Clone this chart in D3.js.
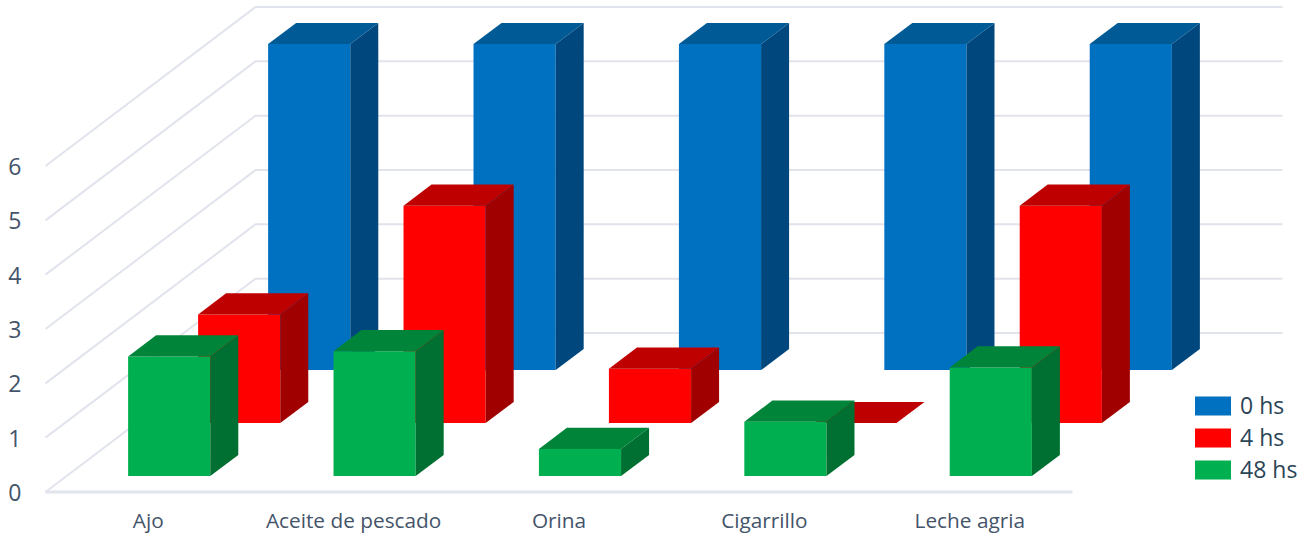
<!DOCTYPE html>
<html>
<head>
<meta charset="utf-8">
<script src="https://cdn.jsdelivr.net/npm/d3@7/dist/d3.min.js"></script>
<style>
  html, body { margin: 0; padding: 0; background: #fff; overflow: hidden; }
  text { font-family: "Open Sans", sans-serif; }
</style>
</head>
<body>
<svg id="chart" width="1311" height="536"></svg>
<script>
// Data
const categories = ["Ajo", "Aceite de pescado", "Orina", "Cigarrillo", "Leche agria"];
const seriesNames = ["0 hs", "4 hs", "48 hs"];
const values0hs = [6, 6, 6, 6, 6];
const values4hs = [2, 4, 1, 0, 4];
const values48hs = [2.2, 2.3, 0.5, 1, 2];
const yTicks = [0, 1, 2, 3, 4, 5, 6];

// front, top and side colours for each series
const faceColors = { "0 hs": "#0070C0", "4 hs": "#FF0000", "48 hs": "#00B050" };
const topColors = { "0 hs": "#005A96", "4 hs": "#BF0000", "48 hs": "#008439" };
const sideColors = { "0 hs": "#00477D", "4 hs": "#A00000", "48 hs": "#006F32" };

const series = [
  { name: "0 hs", values: values0hs },
  { name: "4 hs", values: values4hs },
  { name: "48 hs", values: values48hs }
];

const svg = d3.select("#chart");

// Front corner of the floor, and how far the back of the box is shifted from it
const originX = 45.5, originY = 492;
const depthX = 210, depthY = 159;

const x = d3.scaleBand()
  .domain(categories)
  .range([0, 1027])
  .paddingInner(0.6)
  .paddingOuter(0.3);

const y = d3.scaleLinear().domain([0, 6]).range([0, -326]);

// 0 is the front of the box, 1 is the back wall
const depth = d3.scaleBand()
  .domain(["48 hs", "4 hs", "0 hs"])
  .range([0, 1])
  .paddingInner(0.6)
  .paddingOuter(0.3);

// Oblique projection: category position + value + depth to screen coordinates
function px(xPos, d) { return originX + xPos + d * depthX; }
function py(val, d) { return originY + y(val) - d * depthY; }

function polyPoints(pts) {
  return pts.map(p => p.join(",")).join(" ");
}

// Walls
const walls = svg.append("g").attr("class", "walls")
  .attr("fill", "none").attr("stroke", "#E1E4EC").attr("stroke-width", 2);

yTicks.forEach(function(t) {
  walls.append("polyline").attr("points", polyPoints([
    [px(0, 0), py(t, 0)],
    [px(0, 1), py(t, 1)],
    [px(1027, 1), py(t, 1)]
  ]));
});
walls.append("line")
  .attr("x1", px(0, 0)).attr("y1", py(0, 0))
  .attr("x2", px(1027, 0)).attr("y2", py(0, 0))
  .attr("stroke-width", 3);

// Axes
const yAxis = d3.axisLeft(d3.scaleLinear().domain([0, 6]).range([originY, originY - 326]))
  .tickValues(yTicks).tickSize(0).tickPadding(24).tickFormat(d3.format("d"));
const yAxisG = svg.append("g").attr("transform", `translate(${originX},1)`).call(yAxis);
yAxisG.select(".domain").remove();
yAxisG.selectAll("text")
  .attr("fill", "#44546A").style("font-size", "23px").style("font-family", "'Open Sans', sans-serif");

const xAxis = d3.axisBottom(x).tickSize(0).tickPadding(21);
const xAxisG = svg.append("g").attr("transform", `translate(${originX},${originY})`).call(xAxis);
xAxisG.select(".domain").remove();
xAxisG.selectAll("text")
  .attr("fill", "#44546A").style("font-size", "20.8px").style("font-family", "'Open Sans', sans-serif");

// Bars, back series first so the nearer ones cover them
series.forEach(function(s) {
  const g = svg.append("g").attr("class", "series");
  const d0 = depth(s.name);
  const d1 = d0 + depth.bandwidth();

  s.values.forEach(function(v, i) {
    const xa = x(categories[i]);
    const xb = xa + x.bandwidth();

    g.append("polygon").attr("fill", faceColors[s.name]).attr("points", polyPoints([
      [px(xa, d0), py(v, d0)], [px(xb, d0), py(v, d0)],
      [px(xb, d0), py(0, d0)], [px(xa, d0), py(0, d0)]
    ]));
    g.append("polygon").attr("fill", sideColors[s.name]).attr("points", polyPoints([
      [px(xb, d0), py(v, d0)], [px(xb, d1), py(v, d1)],
      [px(xb, d1), py(0, d1)], [px(xb, d0), py(0, d0)]
    ]));
    g.append("polygon").attr("fill", topColors[s.name]).attr("points", polyPoints([
      [px(xa, d0), py(v, d0)], [px(xa, d1), py(v, d1)],
      [px(xb, d1), py(v, d1)], [px(xb, d0), py(v, d0)]
    ]));
  });
});

// Legend
const legendY = d3.scalePoint().domain(seriesNames).range([406, 470]);
const legend = svg.append("g").attr("class", "legend");
seriesNames.forEach(function(name) {
  legend.append("rect")
    .attr("x", 1195).attr("y", legendY(name) - 9.5)
    .attr("width", 36).attr("height", 19)
    .attr("fill", faceColors[name]);
  legend.append("text")
    .attr("x", 1240).attr("y", legendY(name))
    .attr("dy", "0.36em")
    .attr("fill", "#2B4456")
    .style("font-size", "23px")
    .text(name);
});
</script>
</body>
</html>
